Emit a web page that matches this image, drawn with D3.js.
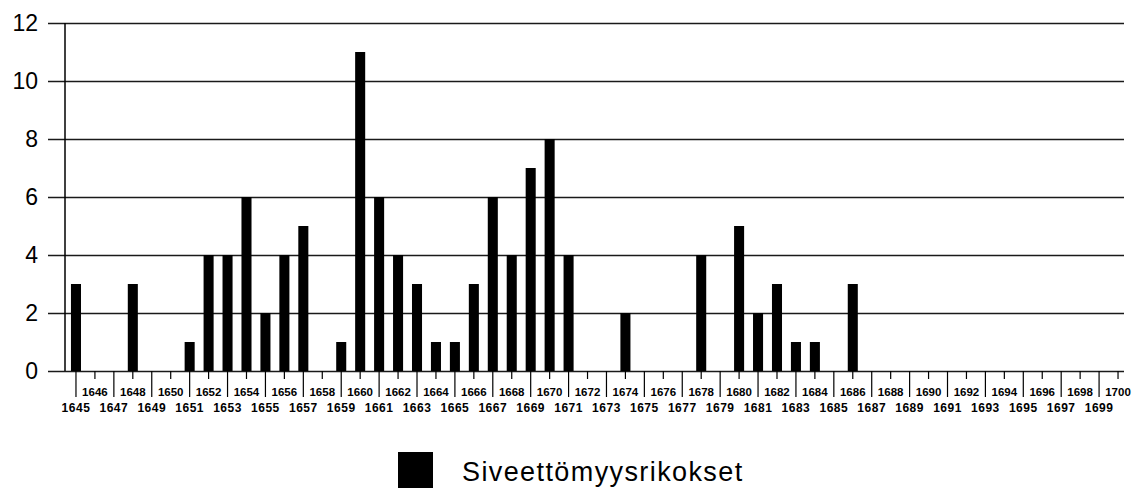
<!DOCTYPE html>
<html>
<head>
<meta charset="utf-8">
<script src="https://cdn.jsdelivr.net/npm/d3@7"></script>
<style>
  body { margin: 0; background: #fff; }
  svg { display: block; font-family: "Liberation Sans", Arial, sans-serif; }
</style>
</head>
<body>
<svg id="chart" width="1139" height="488"></svg>
<script>
// data
var years = d3.range(1645, 1701);
var counts = [3, 0, 0, 3, 0, 0, 1, 4, 4, 6, 2, 4, 5, 0, 1, 11, 6, 4, 3, 1, 1, 3, 6, 4, 7, 8, 4,
  0, 0, 2, 0, 0, 0, 4, 0, 5, 2, 3, 1, 1, 0, 3,
  0, 0, 0, 0, 0, 0, 0, 0, 0, 0, 0, 0, 0, 0];
var yTicks = [0, 2, 4, 6, 8, 10, 12];
var seriesName = 'Siveettömyysrikokset';

var svg = d3.select('#chart');

var x = d3.scaleBand().domain(years).range([66.5, 1127.5]);
var y = d3.scaleLinear().domain([0, 12]).range([371, 23]);

// gridlines + y labels
var yAxis = svg.append('g')
  .attr('transform', 'translate(65,0)')
  .call(d3.axisLeft(y).tickValues(yTicks).tickSize(17).tickPadding(10));
yAxis.select('.domain').remove();
yAxis.selectAll('.tick line').attr('x2', -17).attr('x1', 1124 - 65)
  .attr('stroke', '#1a1a1a').attr('stroke-width', 1.6);
yAxis.selectAll('.tick text')
  .attr('x', -27).attr('fill', '#000')
  .style('font-size', '23px');

// y axis line
svg.append('line')
  .attr('x1', 65).attr('x2', 65)
  .attr('y1', y(12)).attr('y2', y(0))
  .attr('stroke', '#000').attr('stroke-width', 1.5);

// bars
var barW = x.bandwidth() * 0.53;
svg.append('g').selectAll('rect')
  .data(years)
  .join('rect')
  .attr('x', function(d) { return x(d) + x.bandwidth() / 2 - barW / 2; })
  .attr('width', barW)
  .attr('y', function(d, i) { return y(counts[i]); })
  .attr('height', function(d, i) { return y(0) - y(counts[i]); })
  .attr('fill', '#000');

// category ticks: odd years get a long line, even years a short one
var xg = svg.append('g');
xg.selectAll('line')
  .data(years)
  .join('line')
  .attr('x1', function(d) { return x(d) + x.bandwidth() / 2; })
  .attr('x2', function(d) { return x(d) + x.bandwidth() / 2; })
  .attr('y1', y(0))
  .attr('y2', function(d) { return d % 2 ? 397 : 379; })
  .attr('stroke', '#000').attr('stroke-width', 1.2);

xg.selectAll('text')
  .data(years)
  .join('text')
  .attr('x', function(d) { return x(d) + x.bandwidth() / 2; })
  .attr('y', function(d) { return d % 2 ? 412 : 396; })
  .attr('text-anchor', 'middle')
  .style('font-size', function(d) { return d % 2 ? '12px' : '11.5px'; })
  .style('font-weight', 'bold')
  .style('letter-spacing', function(d) { return d % 2 ? '0.5px' : '0px'; })
  .text(function(d) { return d; });

// legend
var lg = svg.append('g');
lg.append('rect')
  .attr('x', 398).attr('y', 452)
  .attr('width', 35).attr('height', 36)
  .attr('fill', '#000');
lg.append('text')
  .attr('x', 462).attr('y', 481)
  .style('font-size', '27px')
  .style('letter-spacing', '1.4px')
  .text(seriesName);
</script>
</body>
</html>
